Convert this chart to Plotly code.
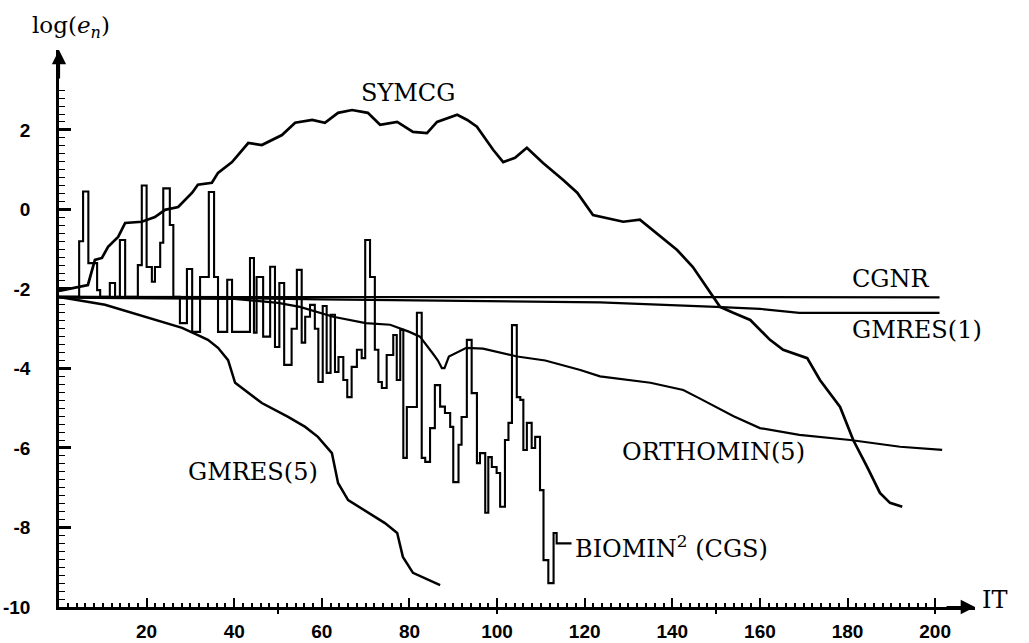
import numpy as np
import plotly.graph_objects as go

# ---------------- data ----------------
cgnr_x = [0, 40, 80, 120, 160, 201]
cgnr_y = [-2.2, -2.2, -2.21, -2.21, -2.21, -2.21]

gmres1_x = [0, 30, 60, 100, 123.5, 150, 160, 169, 185, 201]
gmres1_y = [-2.2, -2.22, -2.26, -2.32, -2.34, -2.45, -2.5, -2.6, -2.6, -2.6]

ortho_x = [0, 40, 50, 55, 62.6, 70, 75.6, 80, 82.4, 83.5, 84.5, 85.5, 86.5, 87.4, 88, 89, 93, 96.8,
           104.6, 111, 119, 123.5, 135, 142.5, 146, 154, 160, 169, 180.6, 192, 201.6]
ortho_y = [-2.22, -2.25, -2.35, -2.45, -2.7, -2.86, -2.9, -3.08, -3.2, -3.35, -3.5, -3.65, -3.8, -3.99,
           -3.99, -3.7, -3.48, -3.5, -3.7, -3.8, -4.04, -4.2, -4.36, -4.54, -4.74, -5.2, -5.5, -5.67,
           -5.8, -5.97, -6.05]

gmres5_x = [0, 1.4, 10.5, 21.9, 28.1, 31.7, 34.0, 36.3, 38.6, 40.2, 46.3, 52.3, 56.2, 59.1, 62.3,
            63.7, 66.0, 74.4, 77.2, 78.5, 80.8, 87.0]
gmres5_y = [-2.2, -2.23, -2.40, -2.78, -2.98, -3.16, -3.28, -3.48, -3.79, -4.36, -4.87, -5.22, -5.47,
            -5.72, -6.13, -6.88, -7.31, -7.89, -8.14, -8.74, -9.14, -9.45]

symcg_x = [0.0, 3.7, 6.6, 8.2, 9.8, 11.2, 13.5, 15.1, 18.9, 21.9, 24.2, 27.2, 30.4, 31.7, 34.9, 36.3,
           39.5, 43.2, 46.3, 50.9, 53.9, 57.8, 60.7, 63.7, 66.9, 70.5, 73.3, 77.2, 80.8, 84.0, 86.3,
           90.9, 93.2, 95.4, 99.1, 101.4, 104.1, 106.8, 110.5, 115.1, 118.3, 121.9, 125.1, 128.8,
           132.6, 135.6, 141.1, 144.7, 148.6, 150.9, 153.9, 157.8, 162.3, 165.3, 170.8, 173.7,
           178.3, 181.3, 184.5, 187.4, 189.7, 192.5]
symcg_y = [-2.05, -1.97, -1.90, -1.27, -1.22, -0.94, -0.69, -0.34, -0.31, -0.19, -0.01, 0.06, 0.42,
           0.62, 0.67, 0.92, 1.19, 1.67, 1.62, 1.87, 2.18, 2.25, 2.18, 2.43, 2.50, 2.43, 2.13, 2.20,
           1.95, 1.92, 2.20, 2.38, 2.25, 2.08, 1.50, 1.19, 1.30, 1.55, 1.17, 0.74, 0.42, -0.14, -0.21,
           -0.31, -0.26, -0.52, -1.02, -1.45, -2.10, -2.45, -2.60, -2.78, -3.28, -3.53, -3.74, -4.29,
           -4.97, -5.80, -6.48, -7.13, -7.38, -7.48]

biomin_x = [0, 4.6, 5.5, 6.7, 8.7, 9.4, 11.6, 12.8, 13.9, 15.1, 18.0, 18.9, 20.0, 21.2, 21.9, 23.1,
            23.8, 25.3, 26.1, 27.6, 29.2, 30.4, 32.2, 34.2, 35.4, 36.3, 38.4, 39.5, 43.6, 44.5, 45.1,
            46.6, 48.2, 49.3, 50.3, 51.4, 53.1, 54.3, 55.4, 56.2, 57.3, 58.4, 59.2, 60.2, 61.1, 62.0,
            63.0, 63.8, 64.9, 65.8, 66.8, 68.0, 69.1, 69.9, 71.0, 72.1, 72.9, 73.7, 74.8, 76.3, 77.1,
            77.9, 78.6, 79.4, 81.7, 82.8, 83.6, 84.7, 85.8, 87.0, 88.1, 89.3, 90.0, 91.2, 91.9, 93.1,
            94.2, 95.4, 96.1, 97.3, 98.0, 98.8, 99.9, 100.7, 101.8, 102.6, 103.4, 104.5, 105.3,
            106.0, 106.8, 107.9, 108.7, 109.8, 110.6, 111.7, 112.9, 113.6, 117.0]
biomin_y = [-2.2, -0.8, 0.45, -1.35, -2.03, -2.2, -1.85, -2.2, -0.77, -2.2, -1.40, 0.6, -1.45, -1.82,
            -1.45, -0.84, 0.53, -0.39, -2.2, -2.86, -1.5, -3.08, -1.7, 0.44, -1.7, -3.08, -1.77,
            -3.08, -1.22, -3.1, -1.70, -3.2, -1.44, -3.46, -1.85, -3.91, -3.0, -1.52, -3.35, -2.7,
            -2.4, -3.0, -4.34, -2.43, -4.11, -2.65, -4.09, -3.71, -4.29, -4.72, -3.96, -3.53, -3.74,
            -0.77, -1.70, -3.53, -4.34, -4.49, -3.66, -3.16, -4.29, -3.03, -6.25, -4.97, -2.6,
            -6.25, -6.35, -5.5, -4.42, -4.96, -5.12, -5.47, -6.86, -5.92, -5.22, -3.28, -4.62,
            -6.38, -6.13, -7.63, -6.23, -6.48, -6.63, -7.48, -5.8, -5.37, -2.91, -4.72, -4.79,
            -6.05, -5.37, -6.0, -5.72, -7.06, -8.82, -9.4, -8.14, -8.4, -8.4]

x_major = list(range(10, 201, 10))
x_labels = [str(v) if v % 20 == 0 else "" for v in x_major]
x_cross = [50, 100, 150, 200]
y_major = list(range(-10, 4))
y_labels = [str(v) if v % 2 == 0 else "" for v in y_major]

# ---------------- figure ----------------
BLACK = "black"
fig = go.Figure()

def add_line(x, y, width=2.2, shape="linear"):
    fig.add_trace(go.Scatter(x=x, y=y, mode="lines",
                             line=dict(color=BLACK, width=width, shape=shape),
                             showlegend=False, hoverinfo="skip"))

add_line(cgnr_x, cgnr_y, 2.2)
add_line(gmres1_x, gmres1_y, 2.2)
add_line(ortho_x, ortho_y, 2.2)
add_line(gmres5_x, gmres5_y, 2.5)
add_line(symcg_x, symcg_y, 2.7)
add_line(biomin_x, biomin_y, 2.1, "hv")

# empty trace so the overlay axis (crossing ticks at 50/100/150/200) is drawn
fig.add_trace(go.Scatter(x=[None], y=[None], xaxis="x2", yaxis="y", mode="lines",
                         showlegend=False, hoverinfo="skip"))

XR = [0, 209.1]
YR = [-10, 4.01]
tickfont = dict(family="Liberation Sans", size=19, color=BLACK, weight=700)

fig.update_layout(
    width=1029, height=643,
    margin=dict(l=59, r=54, t=50, b=36),
    plot_bgcolor="white", paper_bgcolor="white",
    showlegend=False,
    xaxis=dict(range=XR, showline=True, linecolor=BLACK, linewidth=2.5, showgrid=False,
               zeroline=False, ticks="inside", tickmode="array", tickvals=x_major,
               ticktext=x_labels, ticklen=9, tickwidth=2, tickcolor=BLACK, tickfont=tickfont,
               ticklabelstandoff=5, automargin=False,
               minor=dict(tickmode="array", tickvals=list(np.arange(2, 201, 2)), ticks="inside",
                          ticklen=4, tickwidth=1.5, tickcolor=BLACK)),
    xaxis2=dict(range=XR, overlaying="x", anchor="y", side="bottom", showline=False,
                showgrid=False, zeroline=False, ticks="outside", tickmode="array",
                tickvals=x_cross, ticklen=6, tickwidth=2, tickcolor=BLACK,
                showticklabels=False, automargin=False),
    yaxis=dict(range=YR, showline=True, linecolor=BLACK, linewidth=2.5, showgrid=False,
               zeroline=False, ticks="inside", tickmode="array", tickvals=y_major,
               ticktext=y_labels, ticklen=12, tickwidth=3, tickcolor=BLACK, tickfont=tickfont,
               ticklabelstandoff=22, automargin=False,
               minor=dict(tickmode="array", tickvals=list(np.round(np.arange(-10, 3.05, 0.2), 2)),
                          ticks="inside", ticklen=6, tickwidth=1.3, tickcolor=BLACK)),
)

lab = dict(family="DejaVu Serif", size=24, color=BLACK)
labels = [
    ("SYMCG", 79.7, 2.93),
    ("CGNR", 190.0, -1.75),
    ("GMRES(1)", 195.9, -3.03),
    ("ORTHOMIN(5)", 149.3, -6.10),
    ("GMRES(5)", 44.3, -6.6),
    ("BIOMIN<sup>2</sup> (CGS)", 139.9, -8.49),
]
for t, x, y in labels:
    fig.add_annotation(x=x, y=y, text=t, showarrow=False, font=lab, xanchor="center", yanchor="middle")

# axis titles
fig.add_annotation(xref="paper", yref="paper", x=0.013, y=1.041, text="log(<i>e<sub>n</sub></i>)",
                   showarrow=False, font=dict(family="DejaVu Serif", size=23, color=BLACK),
                   xanchor="center", yanchor="middle")
fig.add_annotation(xref="paper", yref="paper", x=1.022, y=0.013, text="IT",
                   showarrow=False, font=dict(family="DejaVu Serif", size=24, color=BLACK),
                   xanchor="center", yanchor="middle")

# axis arrows
fig.add_annotation(xref="paper", yref="paper", x=0, y=1, ax=0, ay=30, text="", showarrow=True,
                   arrowhead=2, arrowsize=1.3, arrowwidth=2.2, arrowcolor=BLACK)
fig.add_annotation(xref="paper", yref="paper", x=1, y=0, ax=-30, ay=0, text="", showarrow=True,
                   arrowhead=2, arrowsize=1.3, arrowwidth=2.2, arrowcolor=BLACK)

fig.write_html("out.html", config={"displayModeBar": False},
               post_script="document.body.style.margin='0px';")
